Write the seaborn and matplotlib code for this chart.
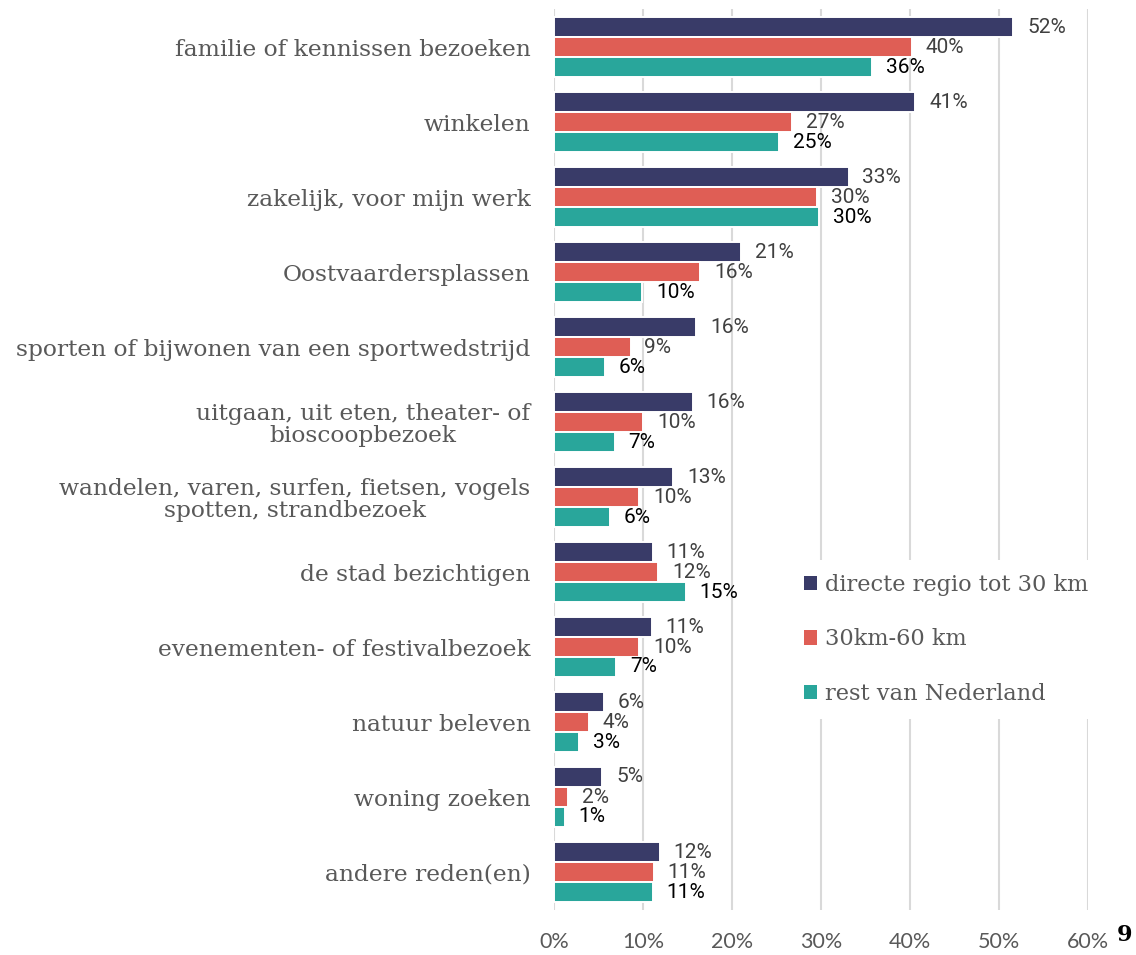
import matplotlib
matplotlib.use("Agg")
import matplotlib.pyplot as plt
import seaborn as sns
import pandas as pd
from matplotlib.patches import Patch

categories = [
    "familie of kennissen bezoeken",
    "winkelen",
    "zakelijk, voor mijn werk",
    "Oostvaardersplassen",
    "sporten of bijwonen van een sportwedstrijd",
    "uitgaan, uit eten, theater- of\nbioscoopbezoek",
    "wandelen, varen, surfen, fietsen, vogels\nspotten, strandbezoek",
    "de stad bezichtigen",
    "evenementen- of festivalbezoek",
    "natuur beleven",
    "woning zoeken",
    "andere reden(en)",
]
series_names = ["directe regio tot 30 km", "30km-60 km", "rest van Nederland"]
regio_30 = [51.6, 40.6, 33.1, 21.0, 16.0, 15.6, 13.4, 11.1, 11.0, 5.6, 5.4, 11.9]
km_30_60 = [40.2, 26.7, 29.6, 16.4, 8.6, 10.0, 9.6, 11.7, 9.6, 3.9, 1.6, 11.2]
rest_nl = [35.7, 25.3, 29.8, 9.9, 5.7, 6.8, 6.3, 14.8, 7.0, 2.8, 1.2, 11.1]
x_ticks = [0, 10, 20, 30, 40, 50, 60]

colors = ["#393B68", "#DF5E55", "#29A69B"]
label_colors = ["#404040", "#404040", "#000000"]

rows = []
for name, vals in zip(series_names, [regio_30, km_30_60, rest_nl]):
    for c, v in zip(categories, vals):
        rows.append({"cat": c, "value": v, "series": name})
df = pd.DataFrame(rows)

sns.set_theme(style="white")
W, H = 1136, 955
fig = plt.figure(figsize=(W / 100, H / 100), dpi=100)
ax = fig.add_axes([554 / W, 1 - 909.5 / H, (1088 - 554) / W, 900 / H])

sns.barplot(data=df, y="cat", x="value", hue="series", order=categories,
            hue_order=series_names, palette=colors, saturation=1, orient="h",
            width=0.8, edgecolor="white", linewidth=1.4, ax=ax, legend=False)

for cont, col, vals in zip(ax.containers, label_colors, [regio_30, km_30_60, rest_nl]):
    ax.bar_label(cont, labels=[f"{v:.0f}%" for v in vals], padding=10,
                 color=col, fontsize=15, family="Roboto")

ax.set_xlim(0, 60)
ax.set_ylim(11.5, -0.5)
ax.set_xticks(x_ticks)
ax.set_xticklabels([f"{t}%" for t in x_ticks], family="Lato", fontsize=15.5, color="#595959")
ax.set_yticks(range(len(categories)))
ax.set_yticklabels(categories, family="DejaVu Serif", fontsize=16.8, color="#595959",
                   multialignment="center", linespacing=1.05)
ax.tick_params(axis="x", length=0, pad=16)
ax.tick_params(axis="y", length=0, pad=17)
ax.set_xlabel("")
ax.set_ylabel("")
for s in ax.spines.values():
    s.set_visible(False)
ax.grid(axis="x", color="#D9D9D9", linewidth=1.5)
ax.grid(axis="y", visible=False)
ax.set_axisbelow(True)

handles = [Patch(facecolor=c, edgecolor="none") for c in colors]
leg = ax.legend(handles, series_names, loc="upper left",
                bbox_to_anchor=(779 / W, 1 - 549 / H), bbox_transform=fig.transFigure,
                frameon=True, facecolor="white", edgecolor="none", framealpha=1,
                prop={"family": "DejaVu Serif", "size": 16.2},
                handlelength=0.6, handleheight=0.6, handletextpad=0.35,
                labelspacing=1.45, borderpad=0.6, fancybox=False)
for t in leg.get_texts():
    t.set_color("#595959")

fig.text(1125 / W, 1 - 935 / H, "9", family="DejaVu Serif", fontweight="bold",
         fontsize=16, color="black", ha="center", va="center")

fig.savefig("out.png", dpi=100)
